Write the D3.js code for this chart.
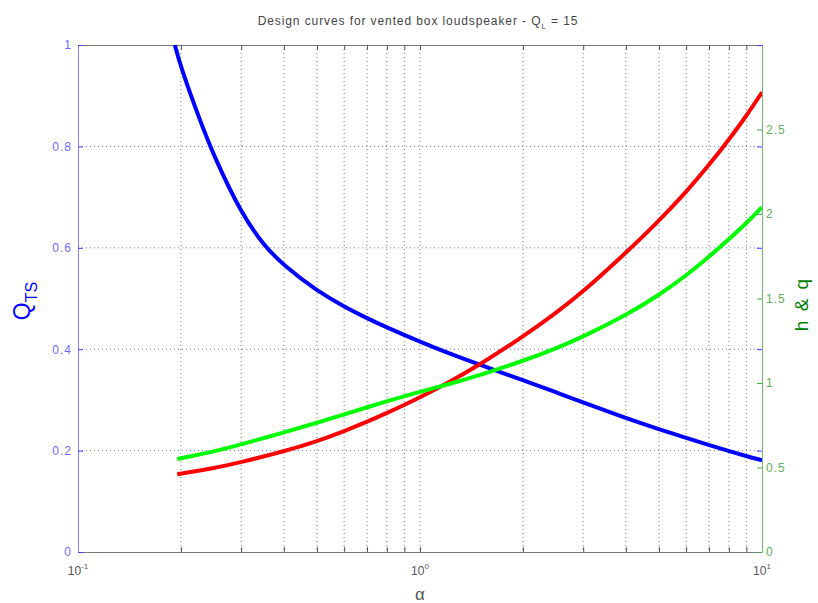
<!DOCTYPE html>
<html>
<head>
<meta charset="utf-8">
<script src="https://cdn.jsdelivr.net/npm/d3@7"></script>
<style>
  body { margin: 0; background: #fff; }
  text { font-family: "Liberation Sans", Arial, sans-serif; }
</style>
</head>
<body>
<svg width="818" height="603"></svg>
<script>
// values
var alphaQ = [0.192, 0.2, 0.227, 0.25, 0.3, 0.35, 0.4, 0.5, 0.6, 0.7, 0.8, 0.9, 1, 1.2, 1.5, 2, 2.5, 3, 4, 5, 6, 7, 8, 9, 10];
var qts    = [1.0, 0.955, 0.852, 0.78, 0.668, 0.604, 0.565, 0.515, 0.484, 0.461, 0.443, 0.428, 0.415, 0.393, 0.369, 0.339, 0.315, 0.295, 0.264, 0.242, 0.225, 0.211, 0.199, 0.189, 0.181];

var alphaHQ = [0.195, 0.25, 0.3, 0.4, 0.5, 0.6, 0.7, 0.8, 0.9, 1, 1.2, 1.5, 2, 2.5, 3, 4, 5, 6, 7, 8, 9, 10];
var hRed    = [0.46, 0.495, 0.532, 0.595, 0.655, 0.715, 0.77, 0.822, 0.87, 0.915, 0.998, 1.11, 1.274, 1.415, 1.54, 1.77, 1.96, 2.13, 2.29, 2.44, 2.58, 2.72];
var qGreen  = [0.55, 0.594, 0.637, 0.707, 0.765, 0.814, 0.856, 0.892, 0.922, 0.948, 0.99, 1.047, 1.13, 1.205, 1.274, 1.40, 1.52, 1.635, 1.747, 1.85, 1.945, 2.04];

var leftTicks = [0, 0.2, 0.4, 0.6, 0.8, 1];
var rightTicks = [0, 0.5, 1, 1.5, 2, 2.5];
var xMinor = [0.1, 0.2, 0.3, 0.4, 0.5, 0.6, 0.7, 0.8, 0.9, 1, 2, 3, 4, 5, 6, 7, 8, 9, 10];
var xDecades = [0.1, 1, 10];
var xExp = ["-1", "0", "1"];

var L = 78, R = 762, T = 45, B = 552;

var svg = d3.select('svg');

var x = d3.scaleLog().domain([0.1, 10]).range([L, R]);
var yL = d3.scaleLinear().domain([0, 1]).range([B, T]);
var yR = d3.scaleLinear().domain([0, 3]).range([B, T]);

svg.append('clipPath').attr('id', 'clip')
  .append('rect').attr('x', L).attr('y', T).attr('width', R - L).attr('height', B - T);

// grid: vertical gray dotted, horizontal blue dotted
svg.append('g').selectAll('line')
  .data(xMinor.filter(function(d){ return d > 0.1 && d < 10; }))
  .enter().append('line')
  .attr('x1', function(d){ return x(d); }).attr('x2', function(d){ return x(d); })
  .attr('y1', T).attr('y2', B)
  .attr('stroke', '#777').attr('stroke-width', 1)
  .attr('stroke-dasharray', '1,3');

svg.append('g').selectAll('line')
  .data([0.2, 0.4, 0.6, 0.8])
  .enter().append('line')
  .attr('x1', L).attr('x2', R)
  .attr('y1', function(d){ return yL(d); }).attr('y2', function(d){ return yL(d); })
  .attr('stroke', '#6f6fff').attr('stroke-width', 1)
  .attr('stroke-dasharray', '1,3');

// axes
var gBottom = svg.append('g').attr('transform', 'translate(0,' + B + ')')
  .call(d3.axisBottom(x).tickValues(xMinor).tickSizeInner(-5).tickSizeOuter(0).tickFormat(''));
var gTop = svg.append('g').attr('transform', 'translate(0,' + T + ')')
  .call(d3.axisTop(x).tickValues(xMinor).tickSizeInner(-5).tickSizeOuter(0).tickFormat(''));
[gBottom, gTop].forEach(function(g){
  g.select('.domain').attr('stroke', '#777');
  g.selectAll('.tick line').attr('stroke', '#555');
});

var gLeft = svg.append('g').attr('transform', 'translate(' + L + ',0)')
  .call(d3.axisLeft(yL).tickValues(leftTicks).tickSizeInner(-5).tickSizeOuter(0).tickPadding(6)
    .tickFormat(function(d){ return d3.format('')(d); }));
gLeft.select('.domain').attr('stroke', '#7f7fff');
gLeft.selectAll('.tick line').attr('stroke', '#3f3fff');
gLeft.selectAll('.tick text').attr('fill', '#6a6aff')
  .style('font-size', '12px').style('letter-spacing', '1px');

// left ticks mirrored on the right side
var gLeftMirror = svg.append('g').attr('transform', 'translate(' + R + ',0)')
  .call(d3.axisRight(yL).tickValues(leftTicks).tickSizeInner(-5).tickSizeOuter(0).tickFormat(''));
gLeftMirror.select('.domain').remove();
gLeftMirror.selectAll('.tick line').attr('stroke', '#3f3fff');

var gRight = svg.append('g').attr('transform', 'translate(' + R + ',0)')
  .call(d3.axisRight(yR).tickValues(rightTicks).tickSizeInner(-5).tickSizeOuter(0).tickPadding(4)
    .tickFormat(function(d){ return d3.format('')(d); }));
gRight.select('.domain').attr('stroke', '#6fb86f');
gRight.selectAll('.tick line').attr('stroke', '#4fa84f');
gRight.selectAll('.tick text').attr('fill', '#5cae5c')
  .style('font-size', '12px').style('letter-spacing', '1px');

// decade labels 10^n
var dec = svg.append('g').selectAll('text')
  .data(xDecades).enter().append('text')
  .attr('x', function(d){ return x(d); })
  .attr('y', B + 23)
  .attr('text-anchor', 'middle')
  .attr('fill', '#555')
  .style('font-size', '12px');
dec.append('tspan').text('10');
dec.append('tspan').attr('dy', -6).style('font-size', '8px').text(function(d, i){ return xExp[i]; });

// curves
var plot = svg.append('g').attr('clip-path', 'url(#clip)');
var lineL = d3.line().x(function(d){ return x(d[0]); }).y(function(d){ return yL(d[1]); }).curve(d3.curveBasis);
var lineR = d3.line().x(function(d){ return x(d[0]); }).y(function(d){ return yR(d[1]); }).curve(d3.curveBasis);

plot.append('path').datum(d3.zip(alphaQ, qts)).attr('d', lineL)
  .attr('fill', 'none').attr('stroke', '#0000ff').attr('stroke-width', 4);
plot.append('path').datum(d3.zip(alphaHQ, hRed)).attr('d', lineR)
  .attr('fill', 'none').attr('stroke', '#ff0000').attr('stroke-width', 4);
plot.append('path').datum(d3.zip(alphaHQ, qGreen)).attr('d', lineR)
  .attr('fill', 'none').attr('stroke', '#00ff00').attr('stroke-width', 4);

// title
var title = svg.append('text')
  .attr('x', 418).attr('y', 25)
  .attr('text-anchor', 'middle')
  .attr('fill', '#444')
  .style('font-size', '12px')
  .style('letter-spacing', '0.9px');
title.append('tspan').text('Design curves for vented box loudspeaker - Q');
title.append('tspan').attr('dy', 4).style('font-size', '8px').text('L');
title.append('tspan').attr('dy', -4).text(' = 15');

// axis labels
var ql = svg.append('text')
  .attr('transform', 'translate(30,301)rotate(-90)')
  .attr('text-anchor', 'middle')
  .attr('fill', '#0000ff')
  .style('font-size', '23px');
ql.append('tspan').text('Q');
ql.append('tspan').attr('dy', 7).style('font-size', '16px').text('TS');

svg.append('text')
  .attr('transform', 'translate(808,304)rotate(-90)')
  .attr('text-anchor', 'middle')
  .attr('fill', '#008000')
  .style('font-size', '19px')
  .style('letter-spacing', '2px')
  .text('h & q');

svg.append('text')
  .attr('x', 420).attr('y', 600)
  .attr('text-anchor', 'middle')
  .attr('fill', '#555')
  .style('font-size', '17px')
  .text('α');
</script>
</body>
</html>
